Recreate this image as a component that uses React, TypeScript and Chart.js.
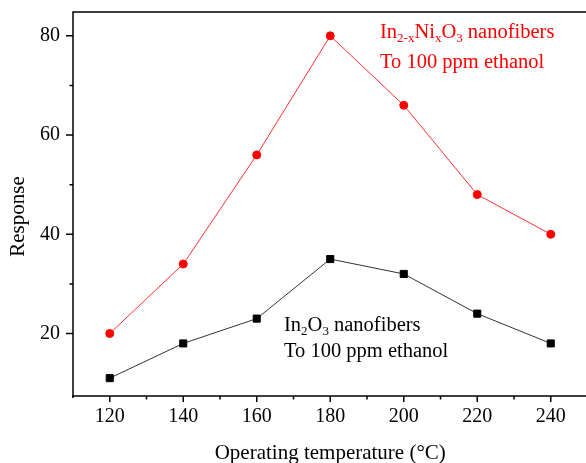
import React, { useEffect, useRef } from 'react';
import { Chart, registerables } from 'chart.js';

Chart.register(...registerables);

// ---- Data ----
const temperatures = [120, 140, 160, 180, 200, 220, 240];
const niDopedResponse = [20, 34, 56, 80, 66, 48, 40];
const pureResponse = [11, 18, 23, 35, 32, 24, 18];
const xLabelTicks = [120, 140, 160, 180, 200, 220, 240];
const yLabelTicks = [20, 40, 60, 80];

const xTitle = 'Operating temperature (°C)';
const yTitle = 'Response';
const redLine1 = [
  { t: 'In' }, { t: '2-x', sub: true }, { t: 'Ni' }, { t: 'x', sub: true },
  { t: 'O' }, { t: '3', sub: true }, { t: ' nanofibers' },
];
const redLine2 = 'To 100 ppm ethanol';
const blackLine1 = [{ t: 'In' }, { t: '2', sub: true }, { t: 'O' }, { t: '3', sub: true }, { t: ' nanofibers' }];
const blackLine2 = 'To 100 ppm ethanol';

const FONT = '"Liberation Serif", "Times New Roman", serif';
const W = 600;
const H = 463;

type Seg = { t: string; sub?: boolean };

function drawRich(ctx: CanvasRenderingContext2D, segs: Seg[], x: number, y: number, size: number) {
  let cx = x;
  for (const s of segs) {
    ctx.font = `${s.sub ? 13 : size}px ${FONT}`;
    ctx.fillText(s.t, cx, s.sub ? y + 4 : y);
    cx += ctx.measureText(s.t).width;
  }
}

const decorPlugin = {
  id: 'decor',
  afterDraw(chart: any) {
    const ctx: CanvasRenderingContext2D = chart.ctx;
    const { left, right, top, bottom } = chart.chartArea;
    const xs = chart.scales.x;
    const ys = chart.scales.y;
    ctx.save();
    ctx.strokeStyle = '#000';
    ctx.lineWidth = 1.5;
    // frame
    ctx.beginPath();
    ctx.moveTo(left, bottom + 2);
    ctx.lineTo(left, top);
    ctx.lineTo(right, top);
    ctx.moveTo(left - 1, bottom);
    ctx.lineTo(right, bottom);
    ctx.stroke();
    // ticks
    ctx.beginPath();
    xs.ticks.forEach((tk: any) => {
      const v = tk.value;
      if (Math.abs(v % 10) > 1e-6 || v <= xs.min || v >= xs.max) return;
      const px = xs.getPixelForValue(v);
      const len = v % 20 === 0 ? 6 : 3.5;
      ctx.moveTo(px, bottom);
      ctx.lineTo(px, bottom + len);
    });
    ys.ticks.forEach((tk: any) => {
      const v = tk.value;
      if (Math.abs(v % 10) > 1e-6 || v <= ys.min || v >= ys.max) return;
      const py = ys.getPixelForValue(v);
      const len = v % 20 === 0 ? 7 : 3.5;
      ctx.moveTo(left, py);
      ctx.lineTo(left - len, py);
    });
    ctx.stroke();
    // axis titles
    ctx.fillStyle = '#000';
    ctx.font = `21px ${FONT}`;
    ctx.textAlign = 'center';
    ctx.textBaseline = 'alphabetic';
    ctx.fillText(xTitle, (left + right) / 2, 459);
    ctx.save();
    ctx.translate(24, 216.5);
    ctx.rotate(-Math.PI / 2);
    ctx.fillText(yTitle, 0, 0);
    ctx.restore();
    // annotations
    ctx.textAlign = 'left';
    ctx.fillStyle = '#ff0000';
    drawRich(ctx, redLine1, 380, 37.7, 20.5);
    ctx.font = `20.5px ${FONT}`;
    ctx.fillText(redLine2, 380, 68.3);
    ctx.fillStyle = '#000';
    drawRich(ctx, blackLine1, 284, 330.7, 20.5);
    ctx.font = `20.5px ${FONT}`;
    ctx.fillText(blackLine2, 284, 356.7);
    ctx.restore();
  },
};

export default function App() {
  const ref = useRef<HTMLCanvasElement | null>(null);
  useEffect(() => {
    if (!ref.current) return;
    const chart = new Chart(ref.current, {
      type: 'line',
      data: {
        datasets: [
          {
            label: 'In2-xNixO3',
            data: temperatures.map((t, i) => ({ x: t, y: niDopedResponse[i] })),
            borderColor: '#ff3030',
            backgroundColor: '#ff0000',
            pointBackgroundColor: '#ff0000',
            pointBorderColor: '#ff0000',
            borderWidth: 1,
            pointRadius: 4,
            pointBorderWidth: 1,
            pointStyle: 'circle',
            tension: 0,
          },
          {
            label: 'In2O3',
            data: temperatures.map((t, i) => ({ x: t, y: pureResponse[i] })),
            borderColor: '#333333',
            backgroundColor: '#000',
            pointBackgroundColor: '#000',
            pointBorderColor: '#000',
            borderWidth: 1,
            pointRadius: 5,
            pointBorderWidth: 1,
            pointStyle: 'rect',
            tension: 0,
          },
        ],
      },
      plugins: [decorPlugin],
      options: {
        responsive: false,
        animation: false,
        devicePixelRatio: 1,
        layout: { padding: { left: 0, top: 12, right: W - 587.5, bottom: 0 } },
        plugins: { legend: { display: false }, tooltip: { enabled: false }, title: { display: false } },
        scales: {
          x: {
            type: 'linear',
            min: 110,
            max: 250,
            afterFit: (s: any) => {
              s.height = H - 396;
              s.paddingLeft = 0;
              s.paddingRight = 0;
              s.paddingTop = 0;
              s.paddingBottom = 0;
            },
            grid: { display: false, drawTicks: false },
            border: { display: false },
            ticks: {
              stepSize: 10,
              autoSkip: false,
              maxRotation: 0,
              padding: 9,
              color: '#000',
              font: { family: FONT, size: 20 },
              callback: (v: any) => (xLabelTicks.includes(Number(v)) ? String(v) : ''),
            },
          },
          y: {
            type: 'linear',
            min: 7.4,
            max: 84.8,
            afterFit: (s: any) => {
              s.width = 73;
              s.paddingLeft = 0;
              s.paddingRight = 0;
              s.paddingTop = 0;
              s.paddingBottom = 0;
            },
            grid: { display: false, drawTicks: false },
            border: { display: false },
            ticks: {
              stepSize: 10,
              autoSkip: false,
              padding: 13,
              color: '#000',
              font: { family: FONT, size: 20 },
              callback: (v: any) => (yLabelTicks.includes(Number(v)) ? String(v) : ''),
            },
          },
        },
      },
    });
    return () => chart.destroy();
  }, []);
  return (
    <div style={{ position: 'fixed', left: 0, top: 0, width: 586, height: H, overflow: 'hidden', background: '#fff' }}>
      <canvas ref={ref} width={W} height={H} style={{ width: W, height: H, display: 'block' }} />
    </div>
  );
}
